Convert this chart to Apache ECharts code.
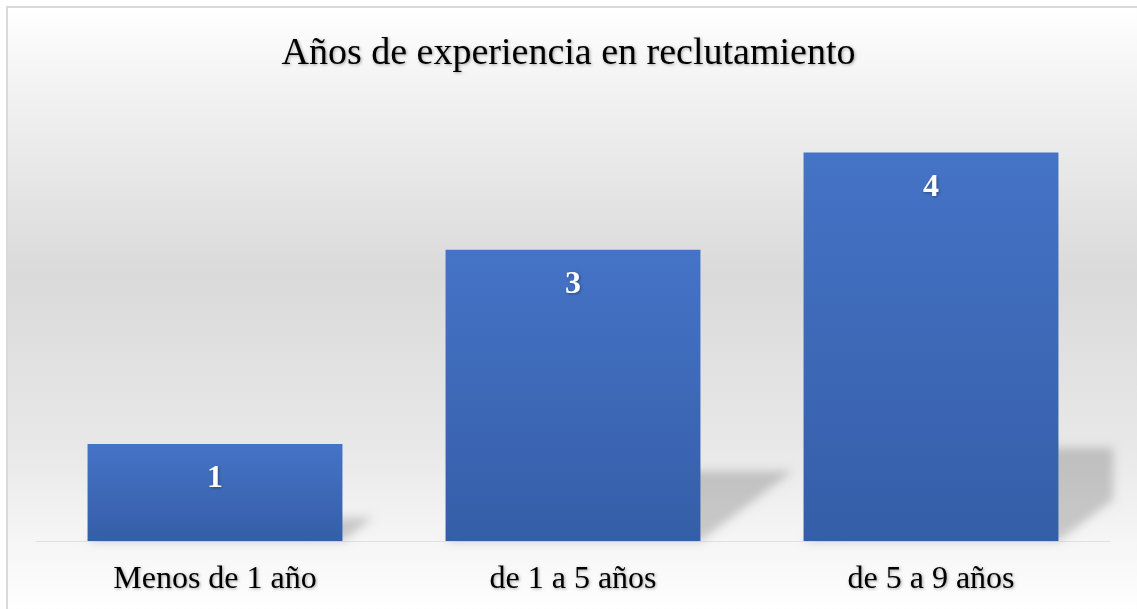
<!DOCTYPE html>
<html>
<head>
<meta charset="utf-8">
<script src="https://cdn.jsdelivr.net/npm/echarts@6/dist/echarts.min.js"></script>
<style>
  html, body { margin: 0; padding: 0; background: #ffffff; }
  #chart { width: 1137px; height: 609px; }
</style>
</head>
<body>
<div id="chart"></div>
<script>
// Years of recruiting experience, by range
const categories = ['Menos de 1 año', 'de 1 a 5 años', 'de 5 a 9 años'];
const values = [1, 3, 4];
const titleText = 'Años de experiencia en reclutamiento';

const serif = '"Liberation Serif", "Times New Roman", serif';
const BAR_RATIO = 0.712;     // bar width as a share of the category band
const SHADOW_OFF = 3000;     // shadow-only drawing: shape is moved out, its shadow moved back

const chart = echarts.init(document.getElementById('chart'), null, { renderer: 'canvas' });

// clip a polygon to x <= xMax (single vertical edge)
function clipRight(pts, xMax) {
  const out = [];
  for (let i = 0; i < pts.length; i++) {
    const a = pts[i], b = pts[(i + 1) % pts.length];
    const ain = a[0] <= xMax, bin = b[0] <= xMax;
    if (ain) out.push(a);
    if (ain !== bin) {
      const t = (xMax - a[0]) / (b[0] - a[0]);
      out.push([xMax, a[1] + t * (b[1] - a[1])]);
    }
  }
  return out;
}

// soft floor shadow cast to the right of each bar
function renderShadow(params, api) {
  const idx = api.value(0);
  const val = api.value(1);
  const base = api.coord([idx, 0]);
  const top = api.coord([idx, val]);
  const bw = api.size([1, 0])[0] * BAR_RATIO;
  const xL = base[0] - bw / 2, xR = base[0] + bw / 2, by = base[1];
  const sh = (by - top[1]) * 0.24;
  const shift = sh * 1.32;
  let pts = [[xL, by], [xR, by], [xR + shift, by - sh], [xL + shift, by - sh]];
  const cs = params.coordSys;
  pts = clipRight(pts, cs.x + cs.width + 3);
  return {
    type: 'polygon',
    silent: true,
    shape: { points: pts.map(p => [p[0] - SHADOW_OFF, p[1]]) },
    style: {
      fill: '#000',
      shadowColor: 'rgba(0,0,0,0.18)',
      shadowBlur: 10,
      shadowOffsetX: SHADOW_OFF,
      shadowOffsetY: 0
    }
  };
}

const textShadow = {
  textShadowColor: 'rgba(0,0,0,0.35)',
  textShadowBlur: 3,
  textShadowOffsetX: 1,
  textShadowOffsetY: 1
};

const option = {
  animation: false,
  backgroundColor: '#ffffff',
  graphic: [
    {
      type: 'rect',
      z: -100,
      silent: true,
      shape: { x: 7, y: 7, width: 1140, height: 610 },
      style: {
        fill: new echarts.graphic.LinearGradient(0, 0, 0, 1, [
          { offset: 0.0, color: '#ffffff' },
          { offset: 0.15, color: '#f1f1f1' },
          { offset: 0.44, color: '#dadada' },
          { offset: 0.72, color: '#e8e8e8' },
          { offset: 0.88, color: '#f6f6f6' },
          { offset: 1.0, color: '#ffffff' }
        ])
      }
    },
    {
      type: 'rect',
      z: 100,
      silent: true,
      shape: { x: 7, y: 7, width: 1140, height: 610 },
      style: { fill: 'none', stroke: '#d9d9d9', lineWidth: 2 }
    }
  ],
  title: {
    text: titleText,
    left: 'center',
    top: 30,
    textStyle: Object.assign({
      fontFamily: serif,
      fontSize: 38,
      fontWeight: 'normal',
      color: '#000000'
    }, textShadow)
  },
  grid: { left: 36, right: 27, top: 104, bottom: 68 },
  xAxis: {
    type: 'category',
    data: categories,
    axisTick: { show: false },
    axisLine: { lineStyle: { color: '#e2e2e2', width: 1 } },
    axisLabel: Object.assign({
      fontFamily: serif,
      fontSize: 32,
      color: '#000000',
      margin: 23
    }, textShadow)
  },
  yAxis: {
    type: 'value',
    min: 0,
    max: 4.5,
    show: false,
    splitLine: { show: false }
  },
  series: [
    {
      type: 'custom',
      z: 1,
      renderItem: renderShadow,
      data: values.map((v, i) => [i, v]),
      encode: { x: 0, y: 1 }
    },
    {
      type: 'bar',
      z: 2,
      data: values,
      barWidth: (BAR_RATIO * 100) + '%',
      itemStyle: {
        color: new echarts.graphic.LinearGradient(0, 0, 0, 1, [
          { offset: 0, color: '#4573c6' },
          { offset: 1, color: '#355ea8' }
        ])
      },
      label: Object.assign({
        show: true,
        position: 'insideTop',
        distance: 19,
        fontFamily: serif,
        fontSize: 32,
        fontWeight: 'bold',
        color: '#ffffff'
      }, textShadow)
    }
  ]
};

chart.setOption(option);
</script>
</body>
</html>
